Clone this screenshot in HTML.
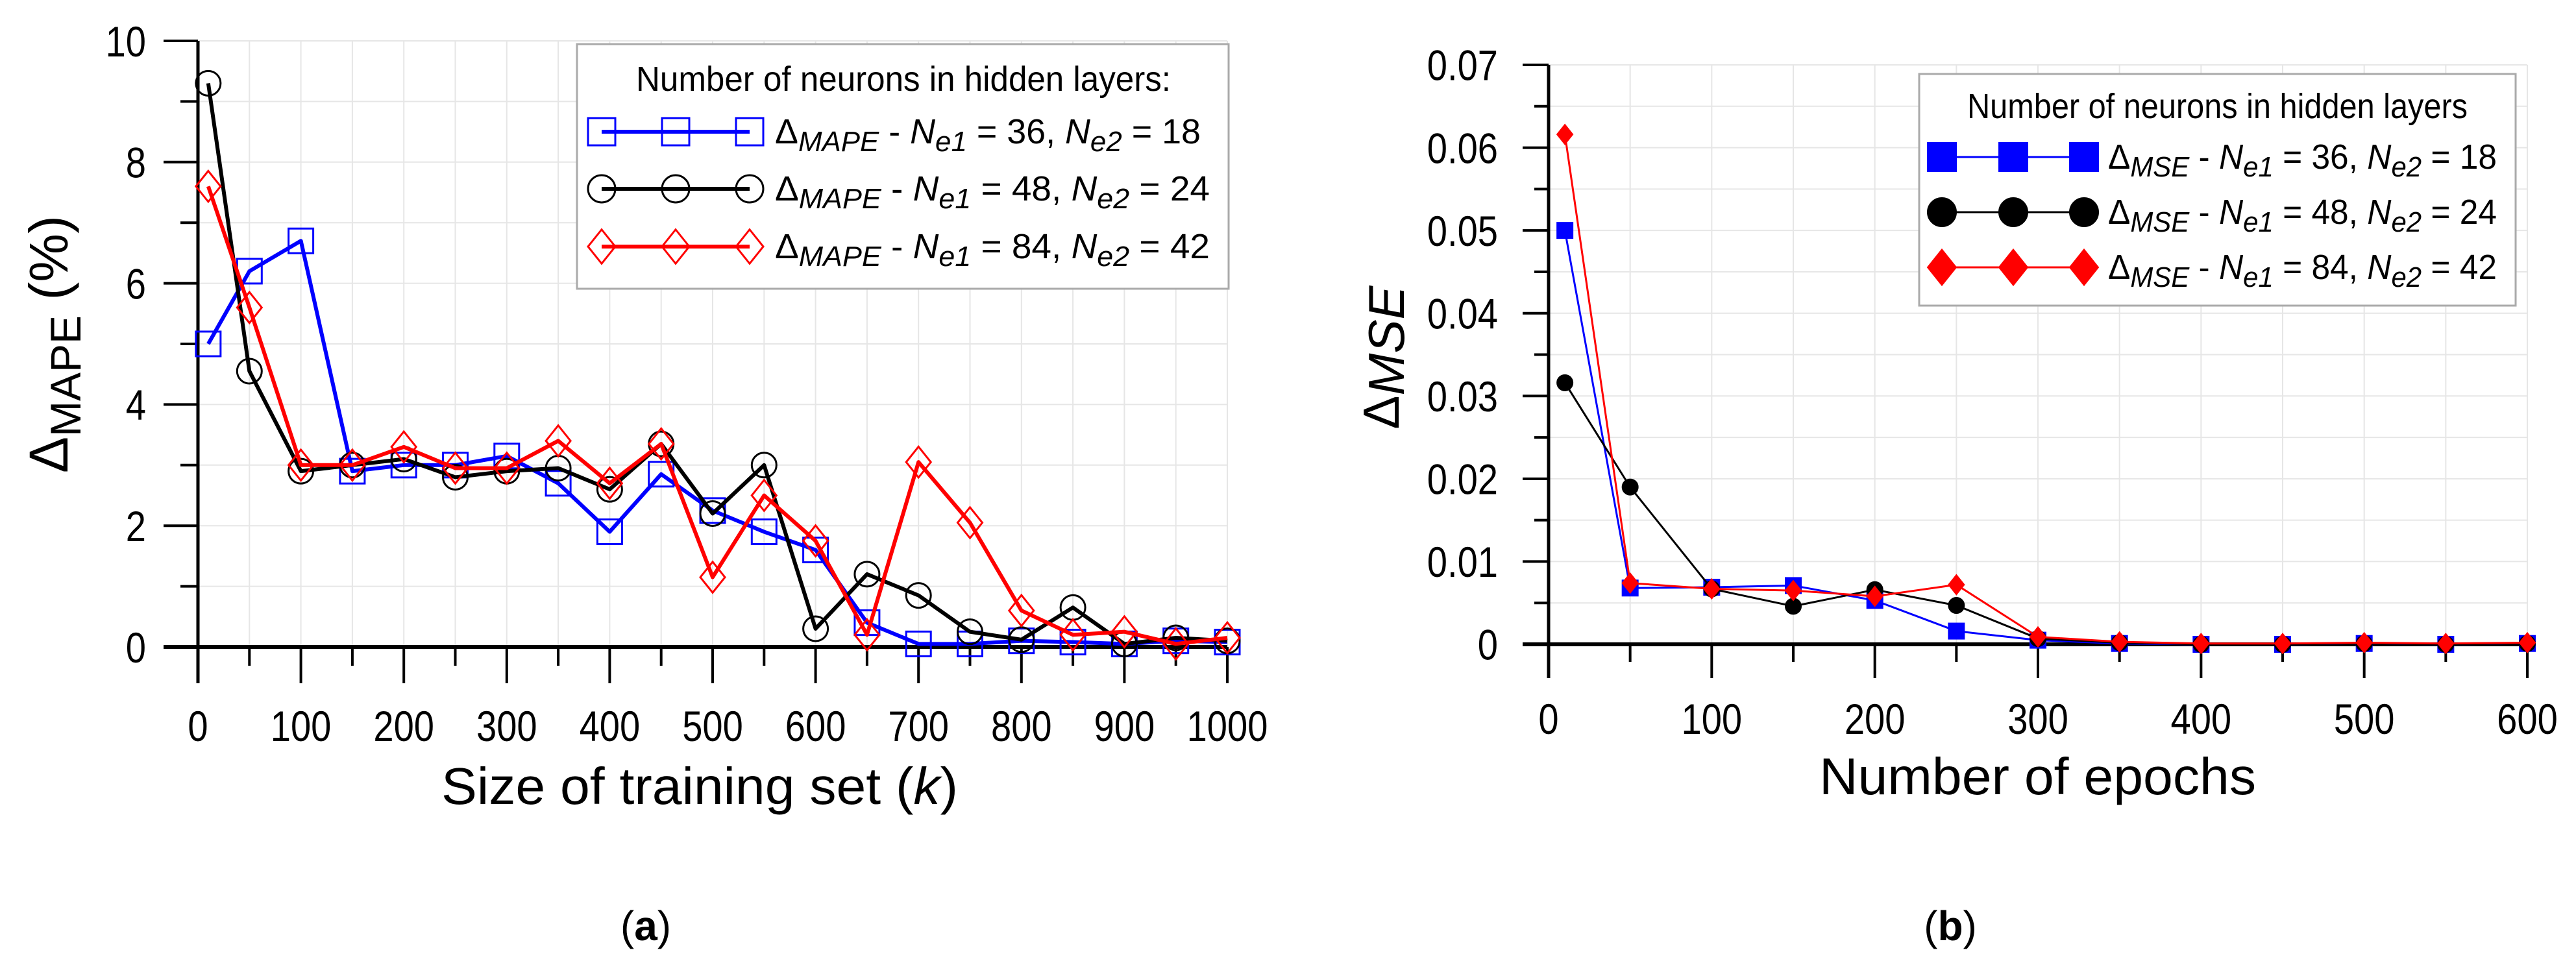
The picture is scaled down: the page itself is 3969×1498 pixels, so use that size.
<!DOCTYPE html>
<html><head><meta charset="utf-8"><style>
body{margin:0;background:#fff}
svg{display:block}
text{font-family:"Liberation Sans",sans-serif}
</style></head><body>
<svg id="svg" width="3969" height="1498" viewBox="0 0 3969 1498" xmlns="http://www.w3.org/2000/svg">
<text x="995" y="1449" font-family="Liberation Serif" font-size="64" text-anchor="middle">(<tspan font-weight="bold">a</tspan>)</text>
<text x="3005" y="1449" font-family="Liberation Serif" font-size="64" text-anchor="middle">(<tspan font-weight="bold">b</tspan>)</text>
</svg>
<script>
const xA=[10,50,100,150,200,250,300,350,400,450,500,550,600,650,700,750,800,850,900,950,1000];
const blueA=[5.0,6.2,6.7,2.9,3.0,3.0,3.15,2.7,1.9,2.85,2.25,1.9,1.6,0.4,0.05,0.05,0.1,0.08,0.05,0.1,0.08];
const blackA=[9.3,4.55,2.9,3.0,3.1,2.8,2.9,2.95,2.6,3.35,2.2,3.0,0.3,1.2,0.85,0.25,0.12,0.65,0.05,0.15,0.1];
const redA=[7.6,5.6,3.0,3.0,3.3,2.95,2.95,3.4,2.7,3.35,1.15,2.5,1.75,0.2,3.05,2.05,0.6,0.2,0.25,0.05,0.15];
const xTicksA=[0,100,200,300,400,500,600,700,800,900,1000];
const yTicksA=[0,2,4,6,8,10];
const xB=[10,50,100,150,200,250,300,350,400,450,500,550,600];
const blueB=[0.050,0.0068,0.0069,0.0071,0.0053,0.0016,0.0005,0.0001,0,0,0.0001,0,0.0001];
const blackB=[0.0316,0.019,0.0067,0.0046,0.0066,0.0047,0.0007,0.0002,0,0,0.0001,0,0.0001];
const redB=[0.0616,0.0074,0.0067,0.0065,0.0058,0.0072,0.0009,0.0003,0.0001,0.0001,0.0002,0.0001,0.0002];
const xTicksB=[0,100,200,300,400,500,600];
const yTicksB=[0,0.01,0.02,0.03,0.04,0.05,0.06,0.07];

const NS='http://www.w3.org/2000/svg';
const svg=document.getElementById('svg');
function el(tag,attrs,parent){const e=document.createElementNS(NS,tag);for(const k in attrs)e.setAttribute(k,attrs[k]);(parent||svg).appendChild(e);return e;}

function marker(g,type,cx,cy,s,color,filled,sw){
  let m;
  if(type==='sq') m=el('rect',{x:cx-s,y:cy-s,width:2*s,height:2*s},g);
  else if(type==='ci') m=el('circle',{cx:cx,cy:cy,r:s},g);
  else m=el('polygon',{points:`${cx},${cy-s*1.25} ${cx+s},${cy} ${cx},${cy+s*1.25} ${cx-s},${cy}`},g);
  m.setAttribute('fill',filled?color:'none');
  m.setAttribute('stroke',color);
  m.setAttribute('stroke-width',sw);
  
  
}

function chart(o){
  const g=el('g',{});
  
  
  const X=v=>o.x0+(v-o.xmin)/(o.xmax-o.xmin)*(o.x1-o.x0);
  const Y=v=>o.y0-(v-o.ymin)/(o.ymax-o.ymin)*(o.y0-o.y1);
  for(let v=o.xmin;v<=o.xmax+1e-9;v+=o.xminor){const l=el('line',{x1:X(v),x2:X(v),y1:o.y1,y2:o.y0,stroke:'#e6e6e6','stroke-width':2},g);}
  for(let v=o.ymin;v<=o.ymax+1e-9;v+=o.yminor){const l=el('line',{x1:o.x0,x2:o.x1,y1:Y(v),y2:Y(v),stroke:'#e6e6e6','stroke-width':2},g);}
  el('line',{x1:o.x0,x2:o.x0,y1:o.y1,y2:o.y0+o.tickMaj,stroke:'#000','stroke-width':5},g);
  el('line',{x1:o.x0-o.tickYMaj,x2:o.x1,y1:Y(0),y2:Y(0),stroke:'#000','stroke-width':6},g);
  for(let v=o.xmin;v<=o.xmax+1e-9;v+=o.xminor){
    const major=Math.abs(v/o.xmajor-Math.round(v/o.xmajor))<1e-6;
    const t=el('line',{x1:X(v),x2:X(v),y1:o.y0,y2:o.y0+(major?o.tickMaj:o.tickMin),stroke:'#000','stroke-width':4},g);
    
  }
  for(let v=o.ymin;v<=o.ymax+1e-9;v+=o.yminor){
    const major=Math.abs(v/o.ymajor-Math.round(v/o.ymajor))<1e-6;
    const t=el('line',{x1:o.x0-(major?o.tickYMaj:o.tickYMin),x2:o.x0,y1:Y(v),y2:Y(v),stroke:'#000','stroke-width':4},g);
    
  }
  o.xTicks.forEach(v=>{const t=el('text',{x:X(v),y:o.xLabY,'font-size':o.fs,'text-anchor':'middle',transform:`translate(${X(v)},0) scale(0.85,1) translate(${-X(v)},0)`},g);t.textContent=v;});
  o.yTicks.forEach(v=>{const t=el('text',{x:o.yLabX,y:Y(v)+o.fs*0.36,'font-size':o.fs,'text-anchor':'end',transform:`translate(${o.yLabX},0) scale(0.85,1) translate(${-o.yLabX},0)`},g);t.textContent=o.fmt(v);});
  o.series.forEach(s=>{
    const sg=el('g',{},g);
    
    
    const pts=o.xs.map((x,i)=>X(x)+','+Y(s.vals[i])).join(' ');
    el('polyline',{points:pts,fill:'none',stroke:s.color,'stroke-width':o.lw,'stroke-linejoin':'round'},sg);
    o.xs.forEach((x,i)=>marker(sg,s.type,X(x),Y(s.vals[i]),o.ms,s.color,o.filled,o.msw));
  });
  const lg=el('g',{},g);
  
  
  el('rect',{x:o.leg.x,y:o.leg.y,width:o.leg.w,height:o.leg.h,fill:'#fff',stroke:'#aaa','stroke-width':3},lg);
  const lt=el('text',{x:o.leg.tx0,y:o.leg.ty,'font-size':54,textLength:o.leg.tlen,lengthAdjust:'spacingAndGlyphs'},lg);
  lt.textContent=o.leg.title;
  
  
  o.series.forEach((s,i)=>{
    const y=o.leg.ys[i];
    const eg=el('g',{},lg);
    
    
    el('line',{x1:o.leg.mx[0],x2:o.leg.mx[2],y1:y,y2:y,stroke:s.color,'stroke-width':o.lw},eg);
    o.leg.mx.forEach(mx=>marker(eg,s.type,mx,y,o.legMs,s.color,o.filled,o.msw));
    const t=el('text',{x:o.leg.tx,y:y+18,'font-size':54,textLength:o.leg.elen[i],lengthAdjust:'spacingAndGlyphs'},eg);
    t.innerHTML=`Δ<tspan font-size="44" dy="12" font-style="italic">${o.sub}</tspan><tspan dy="-12"> ${s.dash} </tspan><tspan font-style="italic">N</tspan><tspan font-size="44" dy="12" font-style="italic">e1</tspan><tspan dy="-12"> = ${s.n1}, </tspan><tspan font-style="italic">N</tspan><tspan font-size="44" dy="12" font-style="italic">e2</tspan><tspan dy="-12"> = ${s.n2}</tspan>`;
  });
}

chart({name:'chart-a',x0:305,x1:1891,y0:997,y1:63,xmin:0,xmax:1000,ymin:0,ymax:10,xminor:50,xmajor:100,yminor:1,ymajor:2,
 tickMaj:56,tickMin:29,tickYMaj:53,tickYMin:27,xTicks:xTicksA,yTicks:yTicksA,xLabY:1142,yLabX:225,fs:66,fmt:v=>v,
 xs:xA,lw:6,ms:19,legMs:21,msw:3,filled:false,sub:'MAPE',
 series:[{name:'series-blue',vals:blueA,color:'#0000ff',type:'sq',dash:'-',n1:36,n2:18},
         {name:'series-black',vals:blackA,color:'#000',type:'ci',dash:'- ',n1:48,n2:24},
         {name:'series-red',vals:redA,color:'#ff0000',type:'di',dash:'- ',n1:84,n2:42}],
 leg:{x:889,y:68,w:1004,h:377,ty:140,tx0:980,tlen:824,title:'Number of neurons in hidden layers:',ys:[203,291,380],mx:[927,1041,1155],tx:1194,elen:[656,670,670]}});

chart({name:'chart-b',x0:2386,x1:3894,y0:993,y1:100,xmin:0,xmax:600,ymin:0,ymax:0.07,xminor:50,xmajor:100,yminor:0.005,ymajor:0.01,
 tickMaj:52,tickMin:27,tickYMaj:40,tickYMin:22,xTicks:xTicksB,yTicks:yTicksB,xLabY:1131,yLabX:2308,fs:66,fmt:v=>v===0?'0':v.toFixed(2),
 xs:xB,lw:3,ms:12,legMs:22,msw:2,filled:true,sub:'MSE',
 series:[{name:'series-blue',vals:blueB,color:'#0000ff',type:'sq',dash:'-',n1:36,n2:18},
         {name:'series-black',vals:blackB,color:'#000',type:'ci',dash:'-',n1:48,n2:24},
         {name:'series-red',vals:redB,color:'#ff0000',type:'di',dash:'-',n1:84,n2:42}],
 leg:{x:2957,y:114,w:919,h:357,ty:182,tx0:3031,tlen:771,title:'Number of neurons in hidden layers',ys:[242,327,412],mx:[2992,3102,3211],tx:3248,elen:[599,599,599]}});

let t;
t=el('text',{x:680,y:1239,'font-size':80,textLength:796,lengthAdjust:'spacingAndGlyphs'});
t.innerHTML='Size of training set (<tspan font-style="italic">k</tspan>)';


t=el('text',{x:0,y:0,'font-size':84,textLength:397,lengthAdjust:'spacingAndGlyphs',transform:'translate(104,729) rotate(-90)'});
t.innerHTML='Δ<tspan font-size="66" dy="20">MAPE</tspan><tspan dy="-20"> (%)</tspan>';


t=el('text',{x:2803,y:1224,'font-size':80,textLength:673,lengthAdjust:'spacingAndGlyphs'});
t.textContent='Number of epochs';


t=el('text',{x:0,y:0,'font-size':78,'text-anchor':'middle',transform:'translate(2155,551) rotate(-90)'});
t.innerHTML='Δ<tspan font-style="italic" dy="8">MSE</tspan>';


</script>
</body></html>
